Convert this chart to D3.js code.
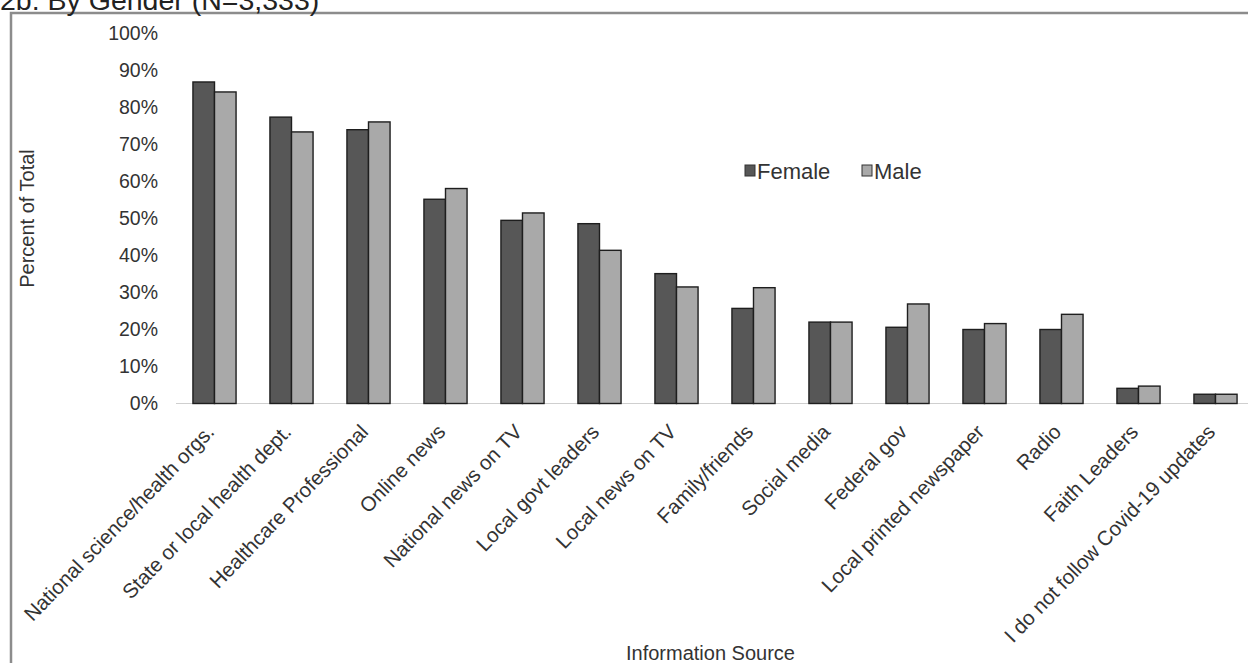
<!DOCTYPE html>
<html>
<head>
<meta charset="utf-8">
<script src="https://cdn.jsdelivr.net/npm/d3@7"></script>
<style>
  html, body { margin: 0; padding: 0; background: #fff; overflow: hidden; }
  svg { display: block; font-family: "Liberation Sans", Arial, sans-serif; }
</style>
</head>
<body>
<svg id="chart" width="1248" height="663"></svg>
<script>
const titleText = "2b. By Gender (N=3,333)";
const categories = [
  "National science/health orgs.",
  "State or local health dept.",
  "Healthcare Professional",
  "Online news",
  "National news on TV",
  "Local govt leaders",
  "Local news on TV",
  "Family/friends",
  "Social media",
  "Federal gov",
  "Local printed newspaper",
  "Radio",
  "Faith Leaders",
  "I do not follow Covid-19 updates"
];
const seriesNames = ["Female", "Male"];
const female = [86.9, 77.4, 74.0, 55.2, 49.5, 48.6, 35.1, 25.7, 22.0, 20.6, 20.0, 20.0, 4.1, 2.5];
const male   = [84.2, 73.4, 76.1, 58.1, 51.5, 41.4, 31.5, 31.3, 22.0, 26.9, 21.6, 24.1, 4.7, 2.5];
const yTicks = [0, 10, 20, 30, 40, 50, 60, 70, 80, 90, 100];
const yTitle = "Percent of Total";
const xTitle = "Information Source";

const colors = { Female: "#575757", Male: "#a9a9a9" };

const svg = d3.select("#chart");

// outer frame
svg.append("rect")
  .attr("x", 11).attr("y", 13)
  .attr("width", 1400).attr("height", 800)
  .attr("fill", "none").attr("stroke", "#8c8c8c").attr("stroke-width", 2.5);

// title (clipped at top)
svg.append("text")
  .attr("x", 0).attr("y", 9.5)
  .attr("font-size", 28.5).attr("fill", "#222")
  .text(titleText);

const y = d3.scaleLinear().domain([0, 100]).range([403.5, 33.5]);
const x0 = d3.scaleBand().domain(categories).range([176, 1254])
  .paddingInner(0.44).paddingOuter(0.22);
const x1 = d3.scaleBand().domain(seriesNames).range([0, x0.bandwidth()]);

const rows = categories.map((c, i) => ({ cat: c, Female: female[i], Male: male[i] }));

// x axis baseline
svg.append("line")
  .attr("x1", 176).attr("x2", 1254)
  .attr("y1", y(0)).attr("y2", y(0))
  .attr("stroke", "#cfcfcf").attr("stroke-width", 1.2);

// y axis labels
const yAxis = d3.axisLeft(y).tickValues(yTicks).tickFormat(d => d + "%").tickSize(0).tickPadding(0);
const gy = svg.append("g").attr("transform", "translate(158,0)").call(yAxis);
gy.select(".domain").remove();
gy.selectAll("text").attr("font-size", 19.5).attr("fill", "#333")
  .attr("font-family", "Liberation Sans, Arial, sans-serif");

// bars
const groups = svg.append("g").selectAll("g").data(rows).join("g")
  .attr("transform", d => `translate(${x0(d.cat)},0)`);
groups.selectAll("rect")
  .data(d => seriesNames.map(s => ({ s, v: d[s] })))
  .join("rect")
  .attr("x", d => x1(d.s))
  .attr("y", d => y(d.v))
  .attr("width", x1.bandwidth())
  .attr("height", d => y(0) - y(d.v))
  .attr("fill", d => colors[d.s])
  .attr("stroke", "#1e1e1e").attr("stroke-width", 1.4);

// category labels
svg.append("g").selectAll("text").data(categories).join("text")
  .attr("transform", d => `translate(${x0(d) + x0.bandwidth() / 2 + 1},433) rotate(-46)`)
  .attr("text-anchor", "end")
  .attr("font-size", 20.5).attr("fill", "#333")
  .text(d => d);

// legend
const legend = svg.append("g");
const legX = [745, 862];
seriesNames.forEach((s, i) => {
  legend.append("rect")
    .attr("x", legX[i]).attr("y", 165).attr("width", 10).attr("height", 11)
    .attr("fill", colors[s]).attr("stroke", "#333").attr("stroke-width", 1);
  legend.append("text")
    .attr("x", legX[i] + 12).attr("y", 178.5)
    .attr("font-size", 22).attr("fill", "#333")
    .text(s);
});

// axis titles
svg.append("text")
  .attr("transform", "translate(34,218.5) rotate(-90)")
  .attr("text-anchor", "middle")
  .attr("font-size", 20).attr("fill", "#333")
  .text(yTitle);

svg.append("text")
  .attr("x", 626).attr("y", 660)
  .attr("text-anchor", "start")
  .attr("font-size", 20).attr("fill", "#333")
  .text(xTitle);
</script>
</body>
</html>
